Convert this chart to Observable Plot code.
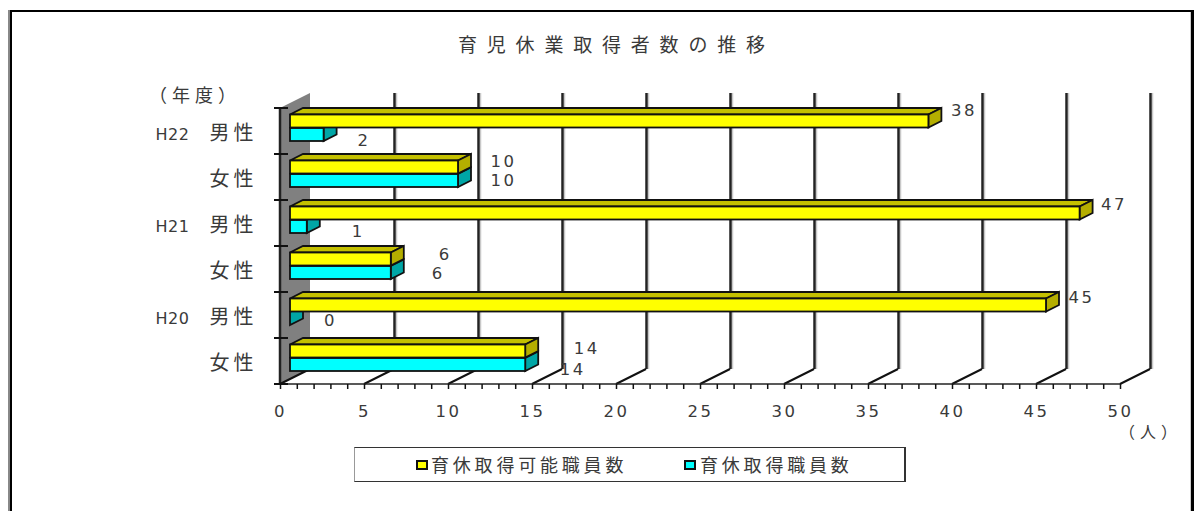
<!DOCTYPE html>
<html><head><meta charset="utf-8">
<script src="https://cdn.jsdelivr.net/npm/d3@7"></script>
<script src="https://cdn.jsdelivr.net/npm/@observablehq/plot@0.6"></script>
<style>
html,body{margin:0;padding:0;background:#fff;overflow:hidden}
#wrap{position:relative;width:1194px;height:511px;font-family:"Noto Sans CJK JP",sans-serif;color:#3a3a3a}
svg{display:block;position:absolute;left:0;top:0;overflow:visible}
.abs{position:absolute;white-space:nowrap;line-height:1}
.num text,.num{font-family:"DejaVu Sans",sans-serif;font-size:16.5px;letter-spacing:2.5px;fill:#3a3a3a}
.cat text,.cat{font-family:"Noto Sans CJK JP",sans-serif;font-size:20px;letter-spacing:4px;fill:#3a3a3a}
.yr text,.yr{font-family:"DejaVu Sans",sans-serif;font-size:16px;letter-spacing:0.5px;fill:#3a3a3a}
</style></head><body><div id="wrap"></div>
<script>
const title = "育児休業取得者数の推移";
const keys = ["H22男","H22女","H21男","H21女","H20男","H20女"];
const genders = ["男性","女性","男性","女性","男性","女性"];
const years = ["H22","","H21","","H20",""];
const eligible = [38,10,47,6,45,14];
const takers = [2,10,1,6,0,14];
const seriesNames = ["育休取得可能職員数","育休取得職員数"];
const colors = {yellow:"#ffff00",yellowTop:"#c4c000",yellowSide:"#b4ae00",cyan:"#00ffff",cyanSide:"#00a6a6"};

const rows = keys.map((key,i)=>({key,gender:genders[i],year:years[i],eligible:eligible[i],takers:takers[i]}));

// layout constants for the pseudo-3D projection
const wall = {dx:30,dy:-15}, off = {dx:10}, bar = {dx:13,dy:-6.5,top:6.5,h:13};

function poly(fn){
  return (index,scales,values,dimensions)=>{
    const g = d3.create("svg:g");
    fn(g,scales,dimensions);
    return g.node();
  };
}
const add=(g,pts,fill,stroke="#111",sw=1.8)=>g.append("polygon").attr("points",pts.map(p=>p.join(",")).join(" ")).attr("fill",fill).attr("stroke",stroke).attr("stroke-width",sw).attr("stroke-linejoin","miter");

const wallMark = poly((g,{x},{marginTop,height,marginBottom})=>{
  const x0=x(0), t=marginTop, b=height-marginBottom;
  add(g,[[x0,t],[x0+wall.dx,t+wall.dy],[x0+wall.dx,b+wall.dy],[x0,b]],"#808080","none",0);
  g.append("line").attr("x1",x0).attr("x2",x0).attr("y1",t).attr("y2",b).attr("stroke","#222").attr("stroke-width",2.5);
});
const floorMark = poly((g,{x},{height,marginBottom})=>{
  const b=height-marginBottom;
  for(const t of d3.range(0,51,5)){
    g.append("line").attr("x1",x(t)).attr("y1",b).attr("x2",x(t)+wall.dx).attr("y2",b+wall.dy).attr("stroke","#111").attr("stroke-width",2);
  }
  g.append("line").attr("x1",x(0)).attr("y1",b).attr("x2",x(50)).attr("y2",b).attr("stroke","#222").attr("stroke-width",1.5);
});
const barSolid = (field,row,fill,side,topFill)=>poly((g,{x,y})=>{
  rows.forEach(r=>{
    const x2=x(r[field])+off.dx, x1=x(0)+off.dx, t=y(r.key)+bar.top+row*bar.h+(row?0.5:0), h=bar.h;
    if(topFill) add(g,[[x1,t],[x2,t],[x2+bar.dx,t+bar.dy],[x1+bar.dx,t+bar.dy]],topFill);
    add(g,[[x2,t],[x2+bar.dx,t+bar.dy],[x2+bar.dx,t+bar.dy+h],[x2,t+h]],side);
  });
});

// hand-placed data labels of the source chart (offsets relative to the value position)
const labelNudge = {
  eligible:[[45,-21],[55,-16],[44,-19],[64,-15],[45,-18],[71,-13]],
  takers:[[50,9],[55,3],[61,8],[57,4],[50,5],[57,8]]
};
const labelMarks = ["eligible","takers"].flatMap(f=>rows.map((r,i)=>
  Plot.text([r],{x:f,y:"key",text:f,dx:labelNudge[f][i][0],dy:labelNudge[f][i][1],className:"num",textAnchor:"middle"})));

const plot = Plot.plot({
  width:1194,height:511,marginLeft:280,marginRight:74,marginTop:108,marginBottom:127,
  x:{domain:[0,50],axis:null},
  y:{domain:keys,axis:null,padding:0},
  marks:[
    wallMark,
    Plot.ruleX(d3.range(5,51,5),{stroke:"#c8c8c8",strokeWidth:1.5,dx:wall.dx+2,dy:wall.dy}),
    Plot.ruleX(d3.range(5,51,5),{stroke:"#222",strokeWidth:2.5,dx:wall.dx,dy:wall.dy}),
    floorMark,
    Plot.axisX({ticks:d3.range(0,51),tickSize:5,stroke:"#111",strokeWidth:1.5,tickFormat:()=>""}),
    Plot.axisX({ticks:d3.range(0,51,5),tickSize:0,tickPadding:21,tickRotate:0,className:"num",tickFormat:d=>d,fontSize:16.5}),
    barSolid("takers",1,colors.cyan,colors.cyanSide,null),
    Plot.barX(rows,{x1:0,x2:"takers",y:"key",fill:colors.cyan,stroke:"#111",strokeWidth:1.8,dx:off.dx,insetTop:bar.top+bar.h+0.5,insetBottom:13}),
    barSolid("eligible",0,colors.yellow,colors.yellowSide,colors.yellowTop),
    Plot.barX(rows,{x1:0,x2:"eligible",y:"key",fill:colors.yellow,stroke:"#111",strokeWidth:1.8,dx:off.dx,insetTop:bar.top,insetBottom:26.5}),
    poly((g,{x,y},{height,marginBottom})=>{
      [...keys.map(k=>y(k)),height-marginBottom].forEach(v=>g.append("line").attr("x1",x(0)-6).attr("x2",x(0)+8).attr("y1",v).attr("y2",v).attr("stroke","#111").attr("stroke-width",2));
    }),
    Plot.text(rows,{y:"key",x:()=>0,text:"gender",dx:-47,dy:2.5,textAnchor:"middle",className:"cat"}),
    Plot.text(rows.filter(r=>r.year),{y:"key",x:()=>0,text:"year",dx:-125,dy:3,textAnchor:"start",className:"yr"}),
    ...labelMarks
  ]
});
const wrap=document.getElementById("wrap");
wrap.appendChild(plot);
const abs=(txt,css)=>{const d=document.createElement("div");d.className="abs";d.textContent=txt;d.style.cssText=css;wrap.appendChild(d);return d;};
// frame
abs("","left:8px;top:10px;width:2px;height:501px;background:#888");
abs("","left:10px;top:10px;width:2px;height:501px;background:#000");
abs("","left:10px;top:10px;width:1181px;height:2px;background:#000");
abs("","left:1190px;top:12px;width:1px;height:499px;background:#ccc");
abs("","left:1191px;top:10px;width:3px;height:501px;background:#000");
// title and unit labels
abs(title,"left:458px;top:34px;font-size:19px;letter-spacing:9.8px");
abs("（年度）","left:149px;top:85px;font-size:18px;letter-spacing:5px");
abs("（人）","left:1119px;top:423px;font-size:16px;letter-spacing:5px");
// legend
abs("","left:354px;top:447px;width:549px;height:33px;border:1px solid #333;border-right-width:2px;border-left-color:#999;box-sizing:content-box");
abs("","left:416px;top:460px;width:8px;height:6px;background:"+colors.yellow+";border:2px solid #111");
abs(seriesNames[0],"left:431px;top:455px;font-size:18px;letter-spacing:3.8px");
abs("","left:684px;top:460px;width:8px;height:6px;background:"+colors.cyan+";border:2px solid #111");
abs(seriesNames[1],"left:700px;top:455px;font-size:18px;letter-spacing:3.8px");
</script></body></html>
